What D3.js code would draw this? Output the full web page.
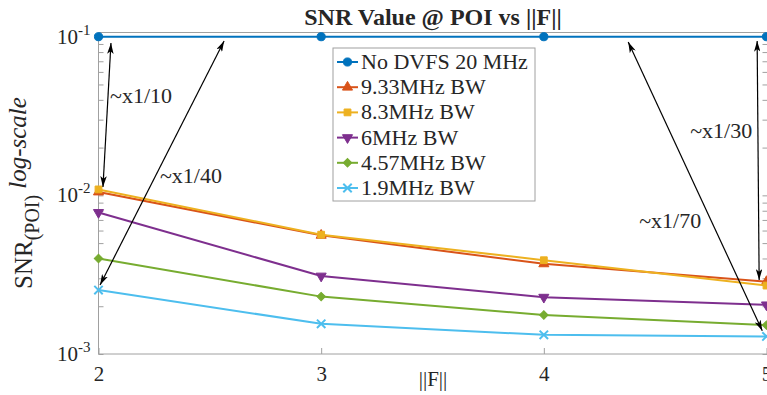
<!DOCTYPE html>
<html>
<head>
<meta charset="utf-8">
<script src="https://cdn.jsdelivr.net/npm/d3@7"></script>
<style>
  body { margin: 0; background: #fff; }
  svg { display: block; }
  text { font-family: "Liberation Serif", "Times New Roman", serif; fill: #262626; }
</style>
</head>
<body>
<div id="chart"></div>
<script>
// ---- data ----
const fValues = [2, 3, 4, 5];
const seriesNames = ['No DVFS 20 MHz', '9.33MHz BW', '8.3MHz BW', '6MHz BW', '4.57MHz BW', '1.9MHz BW'];
const noDvfs = [0.1, 0.1, 0.1, 0.1];
const bw933 = [0.0105, 0.0056, 0.0037, 0.00286];
const bw83 = [0.0109, 0.00565, 0.0039, 0.0027];
const bw6 = [0.0078, 0.0031, 0.00228, 0.00204];
const bw457 = [0.0040, 0.0023, 0.00176, 0.00152];
const bw19 = [0.00253, 0.00155, 0.00132, 0.00129];
const yMajorTicks = [1e-3, 1e-2, 1e-1];
const yTickExp = ['-3', '-2', '-1'];

// annotations in data units: [x1, y1, x2, y2]
const arrowLabels = ['~x1/10', '~x1/40', '~x1/30', '~x1/70'];
const arrowEnds = [
  [2.056, 0.0912, 2.020, 0.0113],
  [2.564, 0.0940, 2.007, 0.00272],
  [4.958, 0.0940, 4.967, 0.00293],
  [4.379, 0.0926, 4.981, 0.0014]
];
const labelPos = [[2.052, 0.0381], [2.276, 0.01197], [4.657, 0.0230], [4.428, 0.00624]];

const colors = ['#0072BD', '#D95319', '#EDB120', '#7E2F8E', '#77AC30', '#4DBEEE'];
const allSeries = [noDvfs, bw933, bw83, bw6, bw457, bw19];

// ---- layout ----
const W = 767, H = 395;
const box = { left: 98.5, right: 767.5, top: 32.5, bottom: 354 };
const axisGray = '#a0a0a0';

const svg = d3.select('#chart').append('svg')
  .attr('width', W).attr('height', H);

const x = d3.scaleLinear().domain([2, 5]).range([box.left, 766.5]);
const y = d3.scaleLog().domain([1e-3, 1e-1]).range([box.bottom, 36.7]);

// minor + major y ticks
const yAllTicks = [];
for (let e = -3; e < -1; e++) {
  for (let m = 1; m < 10; m++) yAllTicks.push(m * Math.pow(10, e));
}
yAllTicks.push(0.1);

// x axis (bottom)
const gx = svg.append('g')
  .attr('transform', 'translate(0,' + box.bottom + ')')
  .call(d3.axisBottom(x).tickValues(fValues).tickSize(-6).tickPadding(12).tickFormat(d3.format('d')));
gx.select('.domain').remove();
gx.selectAll('line').attr('stroke', axisGray);
gx.selectAll('text').style('font-size', '21px').attr('fill', '#262626');

// x axis (top mirror)
const gxt = svg.append('g')
  .attr('transform', 'translate(0,' + box.top + ')')
  .call(d3.axisTop(x).tickValues(fValues).tickSize(-6).tickFormat(''));
gxt.select('.domain').remove();
gxt.selectAll('line').attr('stroke', axisGray);

// y axis (left)
const gy = svg.append('g')
  .attr('transform', 'translate(' + box.left + ',0)')
  .call(d3.axisLeft(y).tickValues(yAllTicks).tickSize(-5).tickFormat(''));
gy.select('.domain').remove();
gy.selectAll('line').attr('stroke', axisGray);

// y axis (right mirror)
const gyr = svg.append('g')
  .attr('transform', 'translate(' + box.right + ',0)')
  .call(d3.axisRight(y).tickValues(yAllTicks).tickSize(-5).tickFormat(''));
gyr.select('.domain').remove();
gyr.selectAll('line').attr('stroke', axisGray);

// y tick labels 10^n
yMajorTicks.forEach((v, i) => {
  const t = svg.append('text')
    .attr('x', box.left - 8)
    .attr('y', y(v) + 7)
    .attr('text-anchor', 'end')
    .style('font-size', '21px');
  t.append('tspan').text('10');
  t.append('tspan').attr('dy', -9).style('font-size', '15px').text(yTickExp[i]);
});

// axes box
svg.append('rect')
  .attr('x', box.left).attr('y', box.top)
  .attr('width', box.right - box.left).attr('height', box.bottom - box.top)
  .attr('fill', 'none').attr('stroke', axisGray).attr('stroke-width', 1);

// ---- markers ----
const markerPath = [
  d3.symbol(d3.symbolCircle, 52)(),
  d3.symbol(d3.symbolTriangle, 44)(),
  d3.symbol(d3.symbolSquare, 46)(),
  d3.symbol(d3.symbolTriangle, 44)(),
  d3.symbol(d3.symbolSquare, 36)(),
  d3.symbol(d3.symbolX, 48)()
];
const markerRot = [0, 0, 0, 180, 45, 0];

function drawMarker(g, i, px, py) {
  const p = g.append('path')
    .attr('d', markerPath[i])
    .attr('transform', 'translate(' + px + ',' + py + ') rotate(' + markerRot[i] + ')');
  if (i === 5) {
    p.attr('fill', 'none').attr('stroke', colors[i]).attr('stroke-width', 2);
  } else {
    p.attr('fill', colors[i]).attr('stroke', colors[i]).attr('stroke-width', 1);
  }
}

// ---- lines ----
const line = d3.line().x((d, i) => x(fValues[i])).y((d) => y(d));
const plot = svg.append('g');
allSeries.forEach((vals, i) => {
  plot.append('path')
    .datum(vals)
    .attr('d', line)
    .attr('fill', 'none')
    .attr('stroke', colors[i])
    .attr('stroke-width', 2);
  vals.forEach((v, j) => drawMarker(plot, i, x(fValues[j]), y(v)));
});

// ---- title ----
svg.append('text')
  .attr('x', (box.left + box.right) / 2)
  .attr('y', 25)
  .attr('text-anchor', 'middle')
  .style('font-size', '24px')
  .style('font-weight', 'bold')
  .attr('fill', '#000')
  .text('SNR Value @ POI vs ||F||');

// x label
svg.append('text')
  .attr('x', (box.left + box.right) / 2)
  .attr('y', 386)
  .attr('text-anchor', 'middle')
  .style('font-size', '21px')
  .text('||F||');

// y label
const yl = svg.append('text')
  .attr('transform', 'translate(32,289) rotate(-90)')
  .attr('text-anchor', 'start')
  .style('font-size', '25px');
yl.append('tspan').text('SNR');
yl.append('tspan').attr('dy', 7).style('font-size', '20px').text('(POI)');
yl.append('tspan').attr('dy', -13).attr('dx', 6).style('font-size', '25px').style('font-style', 'italic').text('log-scale');

// ---- arrows ----
const defs = svg.append('defs');
defs.append('marker')
  .attr('id', 'ah')
  .attr('viewBox', '0 0 10 6')
  .attr('refX', 10).attr('refY', 3)
  .attr('markerWidth', 11).attr('markerHeight', 6.5)
  .attr('markerUnits', 'userSpaceOnUse')
  .attr('orient', 'auto-start-reverse')
  .append('path')
  .attr('d', 'M0,0 L10,3 L0,6 L2.5,3 Z')
  .attr('fill', '#000');

arrowEnds.forEach((a, i) => {
  svg.append('line')
    .attr('x1', x(a[0])).attr('y1', y(a[1]))
    .attr('x2', x(a[2])).attr('y2', y(a[3]))
    .attr('stroke', '#000').attr('stroke-width', 1.2)
    .attr('marker-start', 'url(#ah)')
    .attr('marker-end', 'url(#ah)');
  svg.append('text')
    .attr('x', x(labelPos[i][0]))
    .attr('y', y(labelPos[i][1]))
    .style('font-size', '22px')
    .attr('fill', '#000')
    .text(arrowLabels[i]);
});

// ---- legend ----
const leg = svg.append('g').attr('transform', 'translate(333,48)');
leg.append('rect')
  .attr('width', 202).attr('height', 153)
  .attr('fill', '#fff').attr('stroke', axisGray).attr('stroke-width', 1);
seriesNames.forEach((name, i) => {
  const cy = 14 + i * 25.2;
  leg.append('line')
    .attr('x1', 4).attr('x2', 25).attr('y1', cy).attr('y2', cy)
    .attr('stroke', colors[i]).attr('stroke-width', 2);
  drawMarker(leg, i, 14.5, cy);
  leg.append('text')
    .attr('x', 28).attr('y', cy + 7)
    .style('font-size', '22px')
    .attr('fill', '#000')
    .text(name);
});
</script>
</body>
</html>
